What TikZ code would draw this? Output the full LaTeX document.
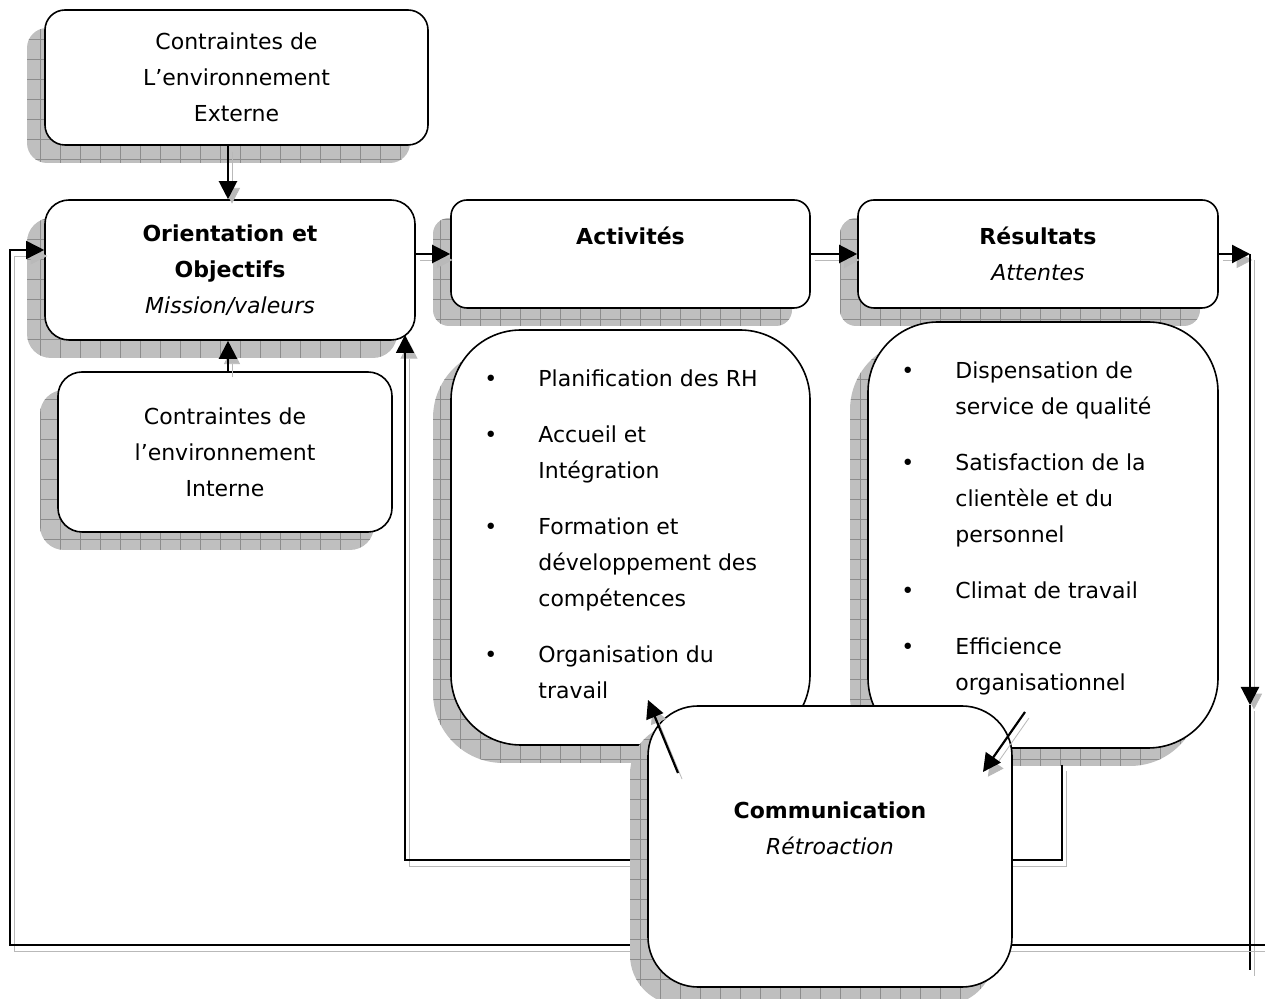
\documentclass[tikz,border=0pt]{standalone}
\usepackage{fontspec}
\setmainfont{DejaVu Sans}
\usetikzlibrary{arrows.meta,patterns.meta,positioning}

\tikzset{
  box/.style={draw, line width=0.8pt, fill=white, rounded corners=#1,
              inner sep=0pt, align=center},
  box/.default=10pt,
  boxshade/.style={
    preaction={fill=gray!50, transform canvas={shift={(-9pt,-9pt)}}},
    preaction={pattern={Hatch[angle=0,distance=10pt,line width=0.3pt]},
               pattern color=gray!90, transform canvas={shift={(-9pt,-9pt)}}}},
  sh/.style={preaction={draw=gray!55, transform canvas={shift={(2pt,-3pt)}}}},
  arr/.style={->, line width=1.1pt},
  loopline/.style={line width=0.8pt},
  listtext/.style={inner sep=0pt, align=left}
}

\begin{document}
\begin{tikzpicture}[x=0.5pt, y=-0.5pt, >={Triangle[length=9pt,width=9pt]},
  every node/.style={font=\fontsize{11}{18}\selectfont}]
  \useasboundingbox (0,0) rectangle (1265,999);
  % Upper boxes
  \node[box=10pt, boxshade, minimum width=191.5pt, minimum height=67.5pt] (ext) at (236.5,77.5)
    {Contraintes de\\L’environnement\\Externe};
  \node[box=12pt, boxshade, minimum width=185pt, minimum height=70pt] (orient) at (230,270)
    {\textbf{Orientation et}\\\textbf{Objectifs}\\\textit{Mission/valeurs}};
  \node[box=12pt, boxshade, minimum width=167pt, minimum height=80pt] (intern) at (225,452)
    {Contraintes de\\l’environnement\\Interne};
  \node[box=8pt, boxshade, minimum width=179.5pt, minimum height=54pt] (act) at (630.5,254)
    {\textbf{Activités}\\\mbox{}};
  \node[box=8pt, boxshade, minimum width=180pt, minimum height=54pt] (res) at (1038,254)
    {\textbf{Résultats}\\\textit{Attentes}};
  % List boxes
  \node[box=35pt, boxshade, minimum width=179.5pt, minimum height=207.5pt] (actlist) at (630.5,537.5) {};
  \node[box=35pt, boxshade, minimum width=175pt, minimum height=213pt] (reslist) at (1043,535) {};
  \node[listtext, anchor=north west] (acttext) at (484,361) {%
    \begin{tabular}{@{}p{27pt}@{}l@{}}
      • & Planification des RH\\[10pt]
      • & Accueil et\\ & Intégration\\[10pt]
      • & Formation et\\ & développement des\\ & compétences\\[10pt]
      • & Organisation du\\ & travail
    \end{tabular}};
  \node[listtext, anchor=north west] (restext) at (901,353) {%
    \begin{tabular}{@{}p{27pt}@{}l@{}}
      • & Dispensation de\\ & service de qualité\\[10pt]
      • & Satisfaction de la\\ & clientèle et du\\ & personnel\\[10pt]
      • & Climat de travail\\[10pt]
      • & Efficience\\ & organisationnel
    \end{tabular}};
  % Loop corners
  \coordinate (ne) at (1250,254);
  \coordinate (rmid) at (1250,705);
  \coordinate (se) at (1250,970);
  \coordinate (sw) at (10,945);
  \coordinate (swe) at (1265,945);
  \coordinate (wtip) at ([yshift=10pt]orient.west);
  \coordinate (il1) at (1062,765);
  \coordinate (il2) at (405,860);
  \coordinate (otip) at (405,335);
  % Main flow
  \draw[arr, sh] (ext.south -| 228,0) -- (orient.north -| 228,0);
  \draw[arr, sh] (intern.north -| 228,0) -- (orient.south -| 228,0);
  \draw[arr, sh] (orient.east |- act.west) -- (act.west);
  \draw[arr, sh] (act.east) -- (res.west);
  \draw[arr, sh] (res.east) -- (ne);
  % Outer feedback loop
  \draw[arr, sh] (ne) -- (rmid);
  \draw[loopline, sh] (rmid) -- (se);
  \draw[arr, loopline, sh] (swe) -- (sw) |- (wtip);
  % Inner feedback loop
  \draw[arr, loopline, sh] (il1) |- (il2) -- (otip);
  % Communication
  \node[box=25pt, boxshade, minimum width=182pt, minimum height=140.5pt] (comm) at (830,846.5) {};
  \node[align=center] (commtext) at ([yshift=9pt]comm.center)
    {\textbf{Communication}\\\textit{Rétroaction}};
  \coordinate (c1) at (678,773);
  \coordinate (a1) at (648,700);
  \coordinate (r1) at (1025,712);
  \coordinate (c2) at (983,772);
  \draw[arr, sh] (c1) -- (a1);
  \draw[arr, sh] (r1) -- (c2);
\end{tikzpicture}
\end{document}
